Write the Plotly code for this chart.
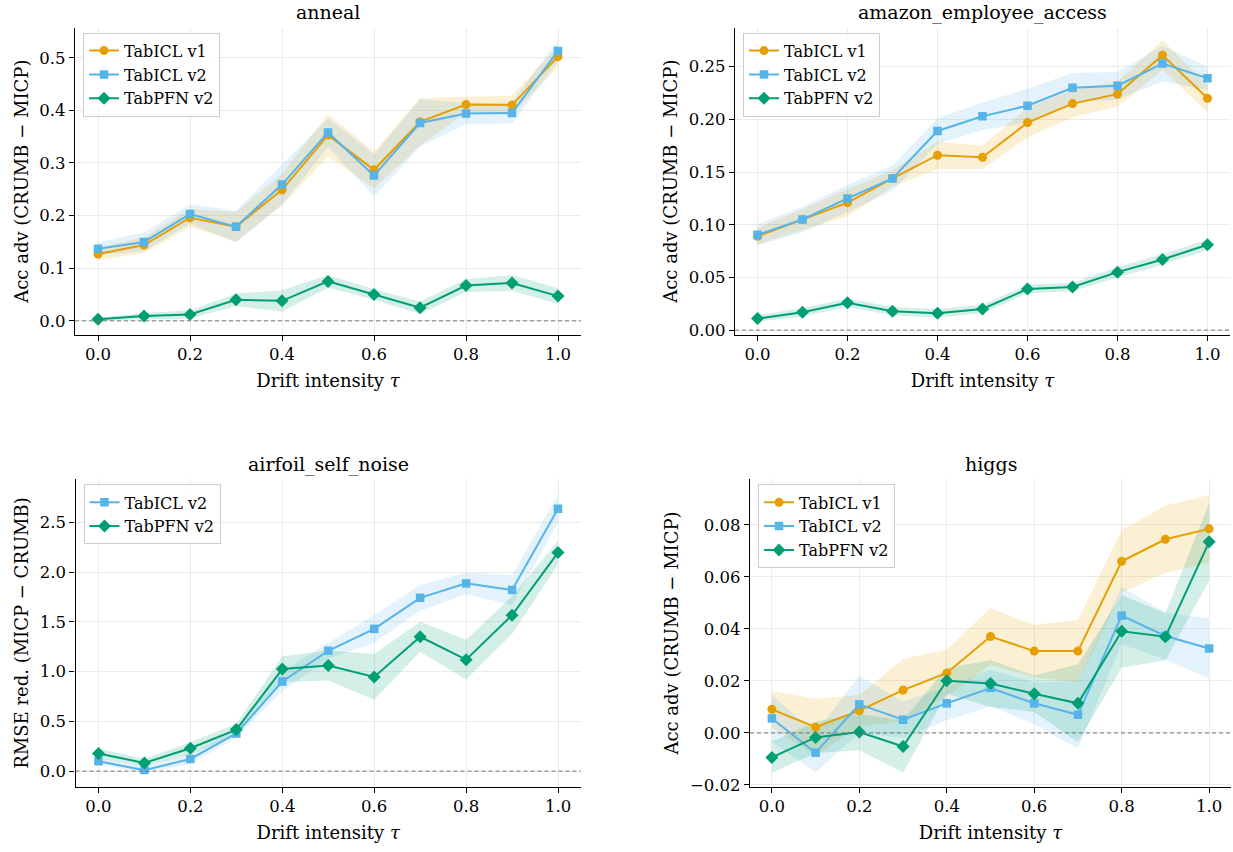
import plotly.graph_objects as go

tau = [0.0, 0.1, 0.2, 0.3, 0.4, 0.5, 0.6, 0.7, 0.8, 0.9, 1.0]

# anneal
anneal_v1 = [0.127, 0.144, 0.196, 0.179, 0.249, 0.353, 0.287, 0.378, 0.411, 0.410, 0.502]
anneal_v1_sd = [0.012, 0.015, 0.017, 0.028, 0.030, 0.040, 0.035, 0.045, 0.015, 0.018, 0.020]
anneal_v2 = [0.137, 0.150, 0.203, 0.179, 0.259, 0.358, 0.276, 0.376, 0.394, 0.395, 0.513]
anneal_v2_sd = [0.012, 0.018, 0.018, 0.030, 0.038, 0.027, 0.040, 0.045, 0.020, 0.020, 0.020]
anneal_pfn = [0.003, 0.009, 0.012, 0.040, 0.038, 0.075, 0.050, 0.025, 0.067, 0.072, 0.047]
anneal_pfn_sd = [0.003, 0.006, 0.008, 0.012, 0.020, 0.012, 0.010, 0.012, 0.012, 0.015, 0.015]

# amazon_employee_access
amazon_v1 = [0.089, 0.105, 0.121, 0.144, 0.166, 0.164, 0.197, 0.215, 0.224, 0.261, 0.220]
amazon_v1_sd = [0.008, 0.010, 0.013, 0.008, 0.013, 0.011, 0.014, 0.013, 0.012, 0.014, 0.013]
amazon_v2 = [0.0905, 0.105, 0.125, 0.144, 0.189, 0.203, 0.213, 0.230, 0.232, 0.253, 0.239]
amazon_v2_sd = [0.010, 0.012, 0.013, 0.012, 0.012, 0.013, 0.016, 0.014, 0.013, 0.017, 0.011]
amazon_pfn = [0.011, 0.017, 0.026, 0.018, 0.016, 0.020, 0.039, 0.041, 0.055, 0.067, 0.081]
amazon_pfn_sd = [0.003, 0.004, 0.004, 0.004, 0.004, 0.004, 0.004, 0.004, 0.005, 0.005, 0.005]

# airfoil_self_noise
airfoil_v2 = [0.099, 0.010, 0.122, 0.378, 0.900, 1.209, 1.429, 1.741, 1.886, 1.820, 2.635]
airfoil_v2_sd = [0.03, 0.03, 0.05, 0.04, 0.10, 0.08, 0.14, 0.13, 0.11, 0.15, 0.14]
airfoil_pfn = [0.177, 0.082, 0.230, 0.417, 1.025, 1.061, 0.946, 1.350, 1.120, 1.567, 2.195]
airfoil_pfn_sd = [0.05, 0.04, 0.06, 0.06, 0.13, 0.15, 0.23, 0.15, 0.20, 0.19, 0.12]

# higgs
higgs_v1 = [0.0091, 0.0022, 0.0086, 0.0165, 0.0231, 0.0371, 0.0315, 0.0315, 0.0660, 0.0745, 0.0785]
higgs_v1_sd = [0.007, 0.011, 0.006, 0.012, 0.009, 0.011, 0.010, 0.012, 0.012, 0.013, 0.013]
higgs_v2 = [0.0056, -0.0076, 0.0110, 0.0051, 0.0114, 0.0173, 0.0114, 0.0070, 0.0451, 0.0373, 0.0325]
higgs_v2_sd = [0.009, 0.0076, 0.011, 0.007, 0.0065, 0.007, 0.008, 0.013, 0.011, 0.009, 0.0115]
higgs_pfn = [-0.0094, -0.0017, 0.0004, -0.0052, 0.0201, 0.0190, 0.0151, 0.0114, 0.0391, 0.0370, 0.0735]
higgs_pfn_sd = [0.006, 0.006, 0.007, 0.010, 0.005, 0.009, 0.007, 0.015, 0.014, 0.009, 0.015]

x_ticks = [0.0, 0.2, 0.4, 0.6, 0.8, 1.0]

COL = {"TabICL v1": "#E69F00", "TabICL v2": "#56B4E9", "TabPFN v2": "#009E73"}
FILL = {"TabICL v1": "rgba(230,159,0,0.17)", "TabICL v2": "rgba(86,180,233,0.17)",
        "TabPFN v2": "rgba(0,158,115,0.17)"}
SYM = {"TabICL v1": "circle", "TabICL v2": "square", "TabPFN v2": "diamond"}
MSIZE = {"TabICL v1": 9, "TabICL v2": 8.5, "TabPFN v2": 10}

FONT = "DejaVu Serif, Liberation Serif, serif"
W, H = 1233, 852

panels = [
    dict(title="anneal", ylabel="Acc adv (CRUMB \u2212 MICP)",
         series=[("TabICL v1", anneal_v1, anneal_v1_sd), ("TabICL v2", anneal_v2, anneal_v2_sd),
                 ("TabPFN v2", anneal_pfn, anneal_pfn_sd)],
         px=(75, 581), py=(28, 337.7), yr=[-0.026, 0.557], dtick=0.1, fmt=".1f"),
    dict(title="amazon_employee_access", ylabel="Acc adv (CRUMB \u2212 MICP)",
         series=[("TabICL v1", amazon_v1, amazon_v1_sd), ("TabICL v2", amazon_v2, amazon_v2_sd),
                 ("TabPFN v2", amazon_pfn, amazon_pfn_sd)],
         px=(735, 1230), py=(28, 337.7), yr=[-0.0042, 0.287], dtick=0.05, fmt=".2f"),
    dict(title="airfoil_self_noise", ylabel="RMSE red. (MICP \u2212 CRUMB)",
         series=[("TabICL v2", airfoil_v2, airfoil_v2_sd), ("TabPFN v2", airfoil_pfn, airfoil_pfn_sd)],
         px=(75.5, 581), py=(484, 794), yr=[-0.155, 2.93], dtick=0.5, fmt=".1f"),
    dict(title="higgs", ylabel="Acc adv (CRUMB \u2212 MICP)",
         series=[("TabICL v1", higgs_v1, higgs_v1_sd), ("TabICL v2", higgs_v2, higgs_v2_sd),
                 ("TabPFN v2", higgs_pfn, higgs_pfn_sd)],
         px=(750, 1231), py=(484, 794), yr=[-0.0206, 0.0975], dtick=0.02, fmt=".2f"),
]

fig = go.Figure()
layout = dict(width=W, height=H, margin=dict(l=0, r=0, t=0, b=0),
              paper_bgcolor="white", plot_bgcolor="white",
              font=dict(family=FONT, size=16, color="black"),
              annotations=[], shapes=[])

for i, p in enumerate(panels):
    n = i + 1
    xa = "x" if n == 1 else f"x{n}"
    ya = "y" if n == 1 else f"y{n}"
    leg = "legend" if n == 1 else f"legend{n}"
    for name, vals, sd in p["series"]:
        upper = [v + s for v, s in zip(vals, sd)]
        lower = [v - s for v, s in zip(vals, sd)]
        fig.add_trace(go.Scatter(
            x=tau + tau[::-1], y=upper + lower[::-1], fill="toself",
            fillcolor=FILL[name], line=dict(width=0), mode="lines",
            hoverinfo="skip", showlegend=False, xaxis=xa, yaxis=ya))
    for name, vals, sd in p["series"]:
        fig.add_trace(go.Scatter(
            x=tau, y=vals, mode="lines+markers", name=name,
            line=dict(color=COL[name], width=2),
            marker=dict(symbol=SYM[name], size=MSIZE[name], color=COL[name]),
            xaxis=xa, yaxis=ya, legend=leg))

    x0, x1 = p["px"]
    y0, y1 = p["py"]
    dom_x = [x0 / W, x1 / W]
    dom_y = [1 - y1 / H, 1 - y0 / H]
    axkey_x = "xaxis" if n == 1 else f"xaxis{n}"
    axkey_y = "yaxis" if n == 1 else f"yaxis{n}"
    common = dict(showline=True, linecolor="black", linewidth=1.2, ticks="outside",
                  ticklen=5, tickwidth=1.2, tickcolor="black", showgrid=True,
                  gridcolor="#ebebeb", gridwidth=1, zeroline=False, mirror=False,
                  tickfont=dict(family=FONT, size=16.5, color="black"))
    layout[axkey_x] = dict(common, domain=dom_x, anchor=ya, range=[-0.05, 1.05],
                           tickvals=x_ticks, tickformat=".1f",
                           title=dict(text="Drift intensity <i>\u03c4</i>",
                                      font=dict(family=FONT, size=18), standoff=10))
    layout[axkey_y] = dict(common, domain=dom_y, anchor=xa, range=p["yr"],
                           dtick=p["dtick"], tick0=0, tickformat=p["fmt"],
                           title=dict(text=p["ylabel"], font=dict(family=FONT, size=18),
                                      standoff=6))
    layout[leg] = dict(x=(x0 + 8) / W, y=1 - (y0 + 5) / H, xanchor="left", yanchor="top",
                       bgcolor="rgba(255,255,255,0.85)", bordercolor="#cccccc", borderwidth=1,
                       font=dict(family=FONT, size=16, color="black"), tracegroupgap=0,
                       itemwidth=30)
    layout["annotations"].append(dict(
        text=p["title"], x=(dom_x[0] + dom_x[1]) / 2, y=1 - (y0 - 15.5) / H,
        xref="paper", yref="paper", xanchor="center", yanchor="middle", showarrow=False,
        font=dict(family=FONT, size=19, color="black")))
    layout["shapes"].append(dict(
        type="line", xref=f"{xa} domain", yref=ya, x0=0, x1=1, y0=0, y1=0,
        line=dict(color="#777777", width=1, dash="4px,3px"), layer="above"))

fig.update_layout(**layout)
fig.write_html("out.html")
